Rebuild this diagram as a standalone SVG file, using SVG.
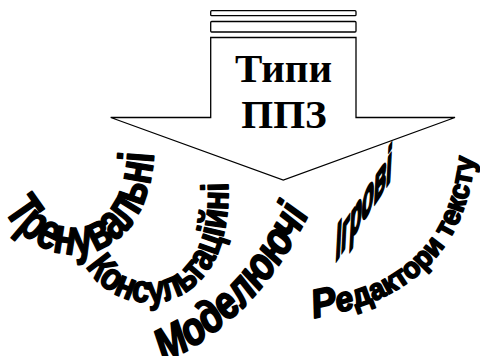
<svg xmlns="http://www.w3.org/2000/svg" width="480" height="356" viewBox="0 0 480 356">
<style>
.ln{fill:#fff;stroke:#000;stroke-width:1.3}
.title{font-family:"Liberation Serif","Times New Roman",serif;font-weight:bold;font-size:41px;fill:#000;text-anchor:middle}
.wa{font-family:"Liberation Sans",Arial,sans-serif;font-weight:bold;fill:#000;stroke:#000;stroke-width:1.6;stroke-linejoin:round}
</style>
<defs>
<path id="p1" d="M 4,210 C 42,280 150,272 154,150"/>
<path id="p2" d="M 86,266 C 118,324 234,324 228,182"/>
<path id="p3" d="M 164,362 Q 265,317 320,190"/>
<path id="p5" d="M 314,318 C 392,304 474,266 476,134"/>
</defs>
<g id="arrow">
<rect class="ln" x="210.7" y="10.7" width="145.3" height="5" rx="1"/>
<rect class="ln" x="210.7" y="21.5" width="145.3" height="10.5" rx="1"/>
<polygon class="ln" points="210.7,37.5 356,37.5 356,117.5 455,117.5 283.3,180 110.7,117.5 210.7,117.5"/>
<text class="title" x="283.5" y="82">Типи</text>
<text class="title" x="284" y="128">ППЗ</text>
</g>
<g id="connectors"></g>
<g id="trenuvalni">
<text class="wa" font-size="50"><textPath href="#p1" textLength="230" lengthAdjust="spacingAndGlyphs">Тренувальні</textPath></text>
</g>
<g id="konsultatsiini">
<text class="wa" font-size="38"><textPath href="#p2" textLength="238" lengthAdjust="spacingAndGlyphs">Консультаційні</textPath></text>
</g>
<g id="modeliuiuchi">
<text class="wa" font-size="46" font-style="italic" style="stroke-width:2"><textPath href="#p3" textLength="212" lengthAdjust="spacingAndGlyphs">Моделюючі</textPath></text>
</g>
<g id="igrovi">
<text class="wa" font-size="50" style="stroke-width:3.2" transform="translate(335,263) skewY(-56) scale(0.4,1) skewX(-8)">Ігрові</text>
</g>
<g id="redaktory">
<text class="wa" font-size="29" style="stroke-width:1.8"><textPath href="#p5" textLength="248" lengthAdjust="spacingAndGlyphs"><tspan font-size="40" font-style="italic">Р</tspan><tspan font-size="34" font-style="italic">е</tspan><tspan font-size="32">д</tspan>актори тексту</textPath></text>
</g>
</svg>
